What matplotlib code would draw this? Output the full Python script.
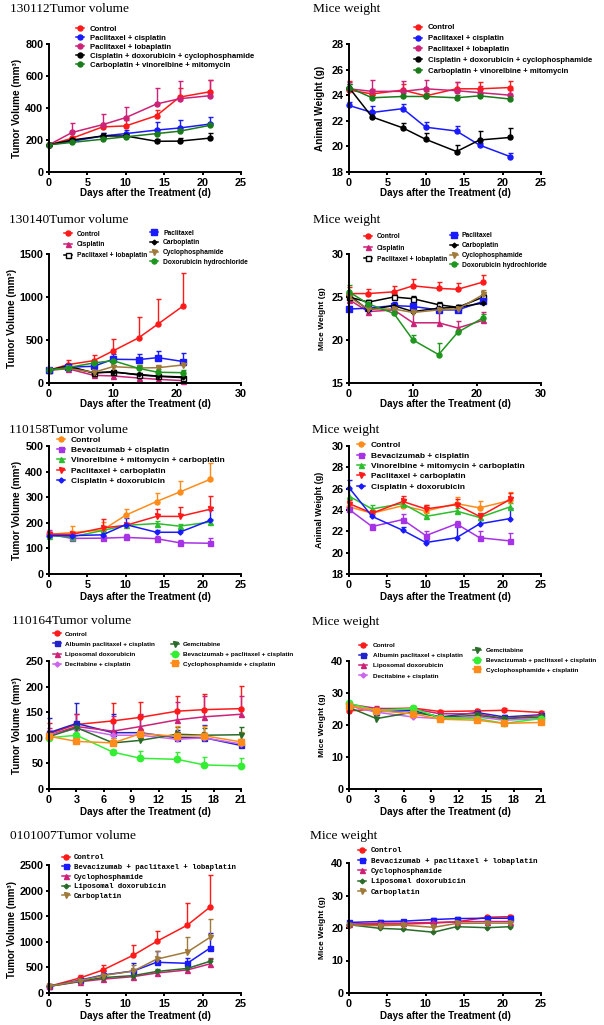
import numpy as np
import matplotlib
matplotlib.use('Agg')
import matplotlib.pyplot as plt
from matplotlib.legend import Legend

# ======================= DATA =======================
# ---- 130112 ----
days_130112 = [0, 3, 7, 10, 14, 17, 21]
groups_130112 = ['Control', 'Paclitaxel + cisplatin', 'Paclitaxel + lobaplatin',
                 'Cisplatin + doxorubicin + cyclophosphamide',
                 'Carboplatin + vinorelbine + mitomycin']
vol_130112 = [[170, 211, 282, 288, 352, 468, 502],
              [170, 192, 225, 240, 262, 275, 300],
              [170, 247, 296, 340, 425, 458, 477],
              [170, 200, 225, 225, 192, 193, 212],
              [170, 185, 205, 220, 240, 255, 292]]
vol_err_130112 = [[10, 15, 25, 35, 36, 60, 75],
                  [10, 15, 20, 25, 50, 50, 45],
                  [10, 62, 65, 68, 100, 110, 100],
                  [10, 15, 20, 15, 15, 20, 30],
                  [10, 10, 10, 10, 10, 10, 12]]
wt_130112 = [[24.4, 24.1, 24.4, 23.95, 24.5, 24.5, 24.6],
             [23.2, 22.65, 22.95, 21.5, 21.2, 20.1, 19.2],
             [24.5, 24.3, 24.3, 24.5, 24.35, 24.2, 24.0],
             [24.6, 22.3, 21.45, 20.55, 19.6, 20.5, 20.7],
             [24.6, 23.8, 23.9, 23.9, 23.8, 23.95, 23.7]]
wt_err_130112 = [[0.7, 0.4, 0.5, 0.4, 0.5, 0.5, 0.5],
                 [0.3, 0.5, 0.4, 0.4, 0.4, 0.2, 0.3],
                 [0.5, 0.9, 0.8, 0.7, 0.7, 0.5, 0.4],
                 [0.3, 0.3, 0.4, 0.5, 0.5, 0.7, 0.7],
                 [0.3, 0.2, 0.3, 0.3, 0.2, 0.2, 0.2]]

# ---- 130140 ----
days_130140 = [0, 3, 7, 10, 14, 17, 21]
groups_130140 = ['Control', 'Cisplatin', 'Paclitaxel + lobaplatin',
                 'Paclitaxel', 'Carboplatin', 'Cyclophosphamide',
                 'Doxorubicin hydrochloride']
vol_130140 = [[150, 214, 260, 373, 525, 684, 898],
              [150, 165, 89, 82, 58, 43, 27],
              [150, 198, 117, 132, 93, 78, 62],
              [150, 185, 194, 276, 272, 295, 249],
              [150, 180, 120, 125, 100, 80, 70],
              [150, 170, 125, 190, 175, 178, 210],
              [150, 180, 233, 260, 170, 125, 120]]
vol_err_130140 = [[10, 50, 70, 140, 240, 290, 380],
                  [10, 30, 20, 20, 15, 15, 10],
                  [10, 20, 20, 20, 20, 15, 10],
                  [10, 20, 50, 60, 70, 80, 100],
                  [10, 20, 15, 15, 10, 10, 10],
                  [10, 20, 30, 50, 30, 30, 40],
                  [10, 30, 20, 30, 40, 40, 30]]
wt_130140 = [[25.4, 25.4, 25.6, 26.3, 26.0, 25.9, 26.75],
             [24.7, 23.3, 23.5, 22.0, 22.0, 21.4, 22.3],
             [25.0, 24.4, 25.0, 24.8, 24.1, 23.8, 25.0],
             [23.6, 23.7, 24.0, 23.9, 23.5, 23.5, 24.5],
             [25.2, 23.5, 24.0, 23.3, 23.7, 23.8, 24.3],
             [25.0, 23.6, 23.6, 23.2, 23.5, 23.6, 25.3],
             [25.6, 24.2, 23.1, 20.0, 18.3, 20.9, 22.6]]
wt_err_130140 = [[0.8, 0.5, 0.7, 0.8, 0.7, 0.7, 0.8],
                 [0.5, 0.5, 0.6, 1.5, 1.5, 0.8, 1.0],
                 [0.3, 0.3, 0.3, 0.3, 0.3, 0.3, 0.3],
                 [0.3, 0.3, 0.4, 0.4, 0.3, 0.3, 0.4],
                 [0.3, 0.3, 0.3, 0.3, 0.3, 0.3, 0.3],
                 [0.3, 0.3, 0.3, 0.3, 0.3, 0.3, 0.5],
                 [0.8, 0.4, 0.3, 0.6, 1.4, 0.3, 0.4]]

# ---- 110158 ----
days_110158 = [0, 3, 7, 10, 14, 17, 21]
groups_110158 = ['Control', 'Bevacizumab + cisplatin',
                 'Vinorelbine + mitomycin + carboplatin',
                 'Paclitaxel + carboplatin', 'Cisplatin + doxorubicin']
vol_110158 = [[155, 162, 172, 230, 283, 320, 370],
              [155, 139, 140, 143, 138, 122, 120],
              [150, 145, 170, 190, 197, 187, 203],
              [155, 155, 180, 190, 225, 225, 253],
              [150, 150, 153, 193, 163, 163, 210]]
vol_err_110158 = [[10, 25, 30, 25, 35, 45, 65],
                  [15, 10, 10, 15, 10, 10, 20],
                  [10, 10, 10, 10, 10, 10, 10],
                  [10, 10, 35, 10, 30, 35, 50],
                  [10, 10, 10, 25, 10, 10, 40]]
wt_110158 = [[24.3, 23.7, 24.4, 23.9, 24.6, 24.2, 24.9],
             [24.06, 22.45, 23.1, 21.6, 22.7, 21.4, 21.1],
             [25.3, 24.1, 24.6, 23.4, 23.9, 23.3, 24.3],
             [24.6, 23.7, 24.8, 24.1, 24.5, 23.4, 25.0],
             [26.1, 23.4, 22.1, 20.95, 21.4, 22.7, 23.2]]
wt_err_110158 = [[0.4, 0.3, 0.4, 0.6, 0.6, 0.6, 0.8],
                 [0.3, 0.2, 0.5, 0.4, 0.3, 0.6, 0.7],
                 [0.7, 0.4, 0.3, 0.3, 0.3, 0.3, 0.4],
                 [0.3, 0.3, 0.5, 0.4, 0.5, 0.3, 0.6],
                 [0.7, 0.2, 0.3, 0.2, 1.3, 0.4, 1.0]]

# ---- 110164 ----
days_110164 = [0, 3, 7, 10, 14, 17, 21]
groups_110164 = ['Control', 'Albumin paclitaxel + cisplatin', 'Liposomal doxorubicin',
                 'Decitabine + cisplatin', 'Gemcitabine',
                 'Bevacizumab + paclitaxel + cisplatin', 'Cyclophosphamide + cisplatin']
vol_110164 = [[108, 126, 133, 140, 152, 155, 157],
              [110, 128, 110, 110, 100, 100, 85],
              [105, 122, 113, 122, 135, 141, 146],
              [105, 118, 105, 105, 97, 100, 88],
              [102, 120, 90, 95, 107, 105, 106],
              [100, 105, 72, 60, 58, 47, 45],
              [103, 93, 90, 108, 103, 104, 92]]
vol_err_110164 = [[20, 20, 35, 30, 30, 30, 45],
                  [29, 39, 37, 35, 15, 25, 5],
                  [15, 25, 30, 25, 35, 40, 35],
                  [10, 10, 10, 10, 10, 10, 10],
                  [10, 10, 10, 10, 15, 15, 15],
                  [5, 10, 5, 15, 15, 15, 15],
                  [10, 10, 10, 10, 20, 20, 20]]
wt_110164 = [[24.4, 25.0, 25.3, 24.2, 24.4, 24.6, 23.9],
             [26.0, 24.2, 24.5, 22.5, 23.9, 22.5, 23.2],
             [26.5, 25.2, 25.0, 23.5, 23.5, 22.0, 23.0],
             [26.0, 24.0, 22.5, 22.0, 22.5, 21.5, 22.0],
             [25.5, 22.0, 24.0, 22.5, 23.0, 22.0, 22.5],
             [26.8, 24.5, 25.2, 22.2, 22.0, 20.5, 22.0],
             [26.0, 24.5, 23.5, 21.8, 21.5, 20.5, 20.8]]
wt_err_110164 = [[0.8, 0.6, 0.6, 0.6, 0.6, 0.6, 0.6],
                 [0.8, 0.6, 0.6, 0.6, 0.6, 0.6, 0.6],
                 [0.8, 0.6, 0.6, 0.6, 0.6, 0.6, 0.6],
                 [0.8, 0.6, 0.6, 0.6, 0.6, 0.6, 0.6],
                 [0.8, 0.6, 0.6, 0.6, 0.6, 0.6, 0.6],
                 [0.8, 0.6, 0.6, 0.6, 0.6, 0.6, 0.6],
                 [0.8, 0.6, 0.6, 0.6, 0.6, 0.6, 0.6]]

# ---- 0101007 ----
days_0101007 = [0, 4, 7, 11, 14, 18, 21]
groups_0101007 = ['Control', 'Bevacizumab + paclitaxel + lobaplatin', 'Cyclophosphamide',
                  'Liposomal doxorubicin', 'Carboplatin']
vol_0101007 = [[130, 292, 448, 740, 1006, 1325, 1682],
               [130, 250, 350, 430, 600, 580, 880],
               [130, 220, 270, 320, 390, 450, 570],
               [130, 230, 300, 340, 420, 480, 620],
               [130, 240, 340, 430, 660, 800, 1090]]
vol_err_0101007 = [[20, 60, 100, 200, 200, 430, 630],
                   [20, 60, 80, 150, 230, 100, 300],
                   [20, 30, 30, 30, 50, 60, 120],
                   [20, 30, 30, 30, 40, 40, 50],
                   [20, 60, 80, 120, 160, 290, 360]]
wt_0101007 = [[20.8, 21.2, 21.2, 21.5, 21.9, 23.3, 23.5],
              [21.7, 22.0, 22.1, 22.6, 22.9, 23.0, 23.0],
              [21.2, 21.5, 21.5, 21.7, 21.9, 22.0, 22.0],
              [21.0, 19.9, 19.6, 18.7, 20.4, 20.1, 20.4],
              [20.9, 20.7, 20.9, 20.2, 21.4, 21.5, 21.5]]
wt_err_0101007 = [[0.3, 0.4, 0.4, 0.4, 0.4, 0.5, 0.6],
                  [0.4, 0.4, 0.4, 0.4, 0.4, 0.4, 0.4],
                  [0.3, 0.3, 0.3, 0.3, 0.3, 0.3, 0.3],
                  [0.3, 0.3, 0.3, 0.3, 0.3, 0.3, 0.3],
                  [0.3, 0.3, 0.3, 0.3, 0.3, 0.3, 0.3]]

# ======================= STYLE =======================
W, H = 604, 1025
SANS, SERIF, MONO = 'Liberation Sans', 'Liberation Serif', 'Liberation Mono'
plt.rcParams['font.family'] = SANS
plt.rcParams['font.weight'] = 'bold'

RED = '#FF1A1A'; BLUE = '#1A1AFF'; MAG = '#CC2277'; BLK = '#000000'
DKG = '#1B7A1B'; BROWN = '#A07A3A'; GRN = '#1E961E'; ORG = '#FF8C1A'
PUR = '#A633E6'; LGRN = '#2DBE2D'; BRGRN = '#33EE33'; VIO = '#CC66EE'
BLUE2 = '#2222CC'; DKG2 = '#2A6B2A'

sty_130112 = [(RED, 'o', RED), (BLUE, 'o', BLUE), (MAG, 'o', MAG), (BLK, 'o', BLK), (DKG, 'o', DKG)]
sty_130140 = [(RED, 'o', RED), (MAG, '^', MAG), (BLK, 's', 'white'), (BLUE, 's', BLUE),
              (BLK, 'D', BLK), (BROWN, 'v', BROWN), (GRN, 'o', GRN)]
ms_130140 = [3.6, 3.6, 3.6, 3.8, 2.4, 3.6, 3.6]
sty_110158 = [(ORG, 'o', ORG), (PUR, 's', PUR), (LGRN, '^', LGRN), (RED, 'v', RED), (BLUE, 'D', BLUE)]
ms_110158 = [3.6, 3.6, 3.6, 3.6, 2.6]
sty_110164 = [(RED, 'o', RED), (BLUE2, 's', BLUE2), (MAG, '^', MAG), (VIO, 'D', VIO),
              (DKG2, 'v', DKG2), (BRGRN, 'o', BRGRN), (ORG, 's', ORG)]
ms_110164 = [3.6, 3.6, 3.6, 2.6, 3.6, 4.6, 5.0]
sty_0101007 = [(RED, 'o', RED), (BLUE, 's', BLUE), (MAG, '^', MAG), (DKG2, 'D', DKG2), (BROWN, 'v', BROWN)]
ms_0101007 = [3.6, 3.6, 3.6, 2.4, 3.6]

fig = plt.figure(figsize=(W / 100, H / 100), dpi=100)
renderer = fig.canvas.get_renderer()


def make_ax(x0, x1, ytop, ybot):
    ax = fig.add_axes([x0 / W, 1 - ybot / H, (x1 - x0) / W, (ybot - ytop) / H])
    ax.patch.set_alpha(0)
    return ax


def plot_group(ax, x, ys, errs, styles, sizes=None):
    lines = []
    for i, (y, e) in enumerate(zip(ys, errs)):
        col, mk, mfc = styles[i]
        ms = sizes[i] if sizes else 3.6
        eb = ax.errorbar(x, y, yerr=[np.zeros(len(e)), e], color=col, marker=mk, ms=ms,
                         mfc=mfc, mec=col, mew=1.0, lw=1.1, elinewidth=1.0,
                         capsize=1.8, capthick=1.0)
        line, caps, bars = eb.lines
        line.set_clip_on(False)
        for c in caps:
            c.set_clip_on(False)
        for b in bars:
            b.set_clip_on(False)
        if len(caps) == 2:
            caps[0].set_visible(False)
        lines.append(line)
    return lines


def style_ax(ax, x0, ybot, height, xlim, xticks, ylim, yticks, ylabel, ylab_x, ylab_fs,
             xlab_dy, tick_fs=7.8, xlab_fs=7.1):
    ax.set_xlim(*xlim)
    ax.set_ylim(*ylim)
    ax.set_xticks(xticks)
    ax.set_yticks(yticks)
    for s in ['top', 'right']:
        ax.spines[s].set_visible(False)
    for s in ['left', 'bottom']:
        ax.spines[s].set_linewidth(1.4)
    ax.tick_params(direction='out', length=2.5, width=1.4, labelsize=tick_fs, pad=1.5)
    ax.set_xlabel('Days after the Treatment (d)', fontsize=xlab_fs, fontweight='bold')
    ax.xaxis.label.set_va('center')
    ax.xaxis.set_label_coords(0.5, -xlab_dy / height)
    ax.set_ylabel(ylabel, fontsize=ylab_fs, fontweight='bold')
    ax.yaxis.label.set_va('center')
    ax.yaxis.set_label_coords((ylab_x - x0) / 192.0, 0.5)


def put_legend(handles, labels, mx, tx, y0, pitch, fs, family=SANS, hl=8):
    em = fs * 100 / 72
    gap = tx - mx - hl / 2
    ls = (pitch - 1.15 * em) / em
    left = mx - hl / 2
    top = y0 - 0.6 * em
    leg = None
    for it in range(3):
        if leg is not None:
            leg.remove()
        leg = Legend(fig, handles, labels, loc='upper left',
                     bbox_to_anchor=(left / W, 1 - top / H), bbox_transform=fig.transFigure,
                     frameon=False, prop=dict(family=family, weight='bold', size=fs),
                     handlelength=hl / em, handletextpad=gap / em, labelspacing=ls,
                     borderpad=0, borderaxespad=0, numpoints=1)
        fig.add_artist(leg)
        if it == 2:
            break
        leg.draw(renderer)
        cys, cxs = [], []
        for h in leg.legend_handles:
            bb = h.get_window_extent(renderer)
            cys.append(H - (bb.y0 + bb.y1) / 2)
            cxs.append((bb.x0 + bb.x1) / 2)
        if len(cys) > 1:
            act = (cys[-1] - cys[0]) / (len(cys) - 1)
            ls = ls + (pitch - act) / em
        top += y0 - cys[0]
        left += mx - cxs[0]
    return leg


def title(x, y, s):
    fig.text(x / W, 1 - y / H, s, family=SERIF, weight='normal', size=9.6, va='center', ha='left')


LX0, LX1, RX0, RX1 = 49, 241, 349, 541
TV = 'Tumor Volume (mm\u00b3)'

# ---------------- Row 1: 130112 ----------------
title(10, 9, '130112Tumor volume')
ax = make_ax(LX0, LX1, 44, 172)
ln = plot_group(ax, days_130112, vol_130112, vol_err_130112, sty_130112)
style_ax(ax, LX0, 172, 128, (0, 25), range(0, 26, 5), (0, 800), range(0, 801, 200), TV, 17, 7.2, 21)
put_legend(ln, groups_130112, 80, 90, 28, 9.0, 5.6)

title(313, 9, 'Mice weight')
ax = make_ax(RX0, RX1, 44, 172)
ln = plot_group(ax, days_130112, wt_130112, wt_err_130112, sty_130112)
style_ax(ax, RX0, 172, 128, (0, 25), range(0, 26, 5), (18, 28), range(18, 29, 2),
         'Animal Weight (g)', 320, 7.2, 21)
put_legend(ln, groups_130112, 418, 428, 26.7, 10.9, 5.6)

# ---------------- Row 2: 130140 ----------------
title(9, 220, '130140Tumor volume')
ax = make_ax(LX0, LX1, 254, 383)
ln = plot_group(ax, days_130140, vol_130140, vol_err_130140, sty_130140, ms_130140)
style_ax(ax, LX0, 383, 129, (0, 30), range(0, 31, 10), (0, 1500), range(0, 1501, 500), TV, 12, 7.2, 21)
put_legend(ln[:3], groups_130140[:3], 68, 77, 233.3, 10.85, 4.8)
put_legend(ln[3:], groups_130140[3:], 154, 163, 232.3, 9.67, 4.8)

title(313, 220, 'Mice weight')
ax = make_ax(RX0, RX1, 254, 383)
ln = plot_group(ax, days_130140, wt_130140, wt_err_130140, sty_130140, ms_130140)
style_ax(ax, RX0, 383, 129, (0, 30), range(0, 31, 10), (15, 30), range(15, 31, 5),
         'Mice Weight (g)', 322.7, 6.0, 21)
put_legend(ln[:3], groups_130140[:3], 368, 377, 236, 11.2, 4.8)
put_legend(ln[3:], groups_130140[3:], 454, 462, 234.7, 9.9, 4.8)

# ---------------- Row 3: 110158 ----------------
title(9, 430, '110158Tumor volume')
ax = make_ax(LX0, LX1, 446, 574)
ln = plot_group(ax, days_110158, vol_110158, vol_err_110158, sty_110158, ms_110158)
style_ax(ax, LX0, 574, 128, (0, 25), range(0, 26, 5), (0, 500), range(0, 501, 100), TV, 17, 7.2, 23.5)
put_legend(ln, groups_110158, 61, 70.7, 439.3, 10.1, 6.0)

title(312, 430, 'Mice weight')
ax = make_ax(RX0, RX1, 446, 574)
ln = plot_group(ax, days_110158, wt_110158, wt_err_110158, sty_110158, ms_110158)
style_ax(ax, RX0, 574, 128, (0, 25), range(0, 26, 5), (18, 30), range(18, 31, 2),
         'Animal Weight (g)', 320, 6.4, 23.5)
put_legend(ln, groups_110158, 361, 370.7, 444.3, 10.35, 6.0)

# ---------------- Row 4: 110164 ----------------
title(12, 621, '110164Tumor volume')
ax = make_ax(LX0, LX1, 661, 789)
ln = plot_group(ax, days_110164, vol_110164, vol_err_110164, sty_110164, ms_110164)
style_ax(ax, LX0, 789, 128, (0, 21), range(0, 22, 3), (0, 250), range(0, 251, 50), TV, 17, 7.0, 23)
put_legend(ln[:4], groups_110164[:4], 56.7, 65, 633.3, 10.1, 4.6)
put_legend(ln[4:], groups_110164[4:], 175, 182.7, 643.7, 9.8, 4.6)

title(312, 621.7, 'Mice weight')
ax = make_ax(RX0, RX1, 661, 789)
ln = plot_group(ax, days_110164, wt_110164, wt_err_110164, sty_110164, ms_110164)
style_ax(ax, RX0, 789, 128, (0, 21), range(0, 22, 3), (0, 40), range(0, 41, 10),
         'Mice Weight (g)', 322.7, 6.1, 23)
put_legend(ln[:4], groups_110164[:4], 363.3, 372.7, 645, 10.1, 4.6)
put_legend(ln[4:], groups_110164[4:], 477.3, 486, 650, 9.65, 4.6)

# ---------------- Row 5: 0101007 ----------------
title(10, 836, '0101007Tumor volume')
ax = make_ax(LX0, LX1, 865, 993)
ln = plot_group(ax, days_0101007, vol_0101007, vol_err_0101007, sty_0101007, ms_0101007)
style_ax(ax, LX0, 993, 128, (0, 25), range(0, 26, 5), (0, 2500), range(0, 2501, 500), TV, 12, 7.0, 23)
put_legend(ln, groups_0101007, 65.7, 74, 856.7, 9.65, 5.3, family=MONO)

title(310, 836, 'Mice weight')
ax = make_ax(RX0, RX1, 863, 993)
ln = plot_group(ax, days_0101007, wt_0101007, wt_err_0101007, sty_0101007, ms_0101007)
style_ax(ax, RX0, 993, 130, (0, 25), range(0, 26, 5), (0, 40), range(0, 41, 10),
         'Mice Weight (g)', 322.7, 6.0, 23)
put_legend(ln, groups_0101007, 361.7, 371, 849.7, 10.3, 5.4, family=MONO)

fig.savefig('out.png', dpi=100)
